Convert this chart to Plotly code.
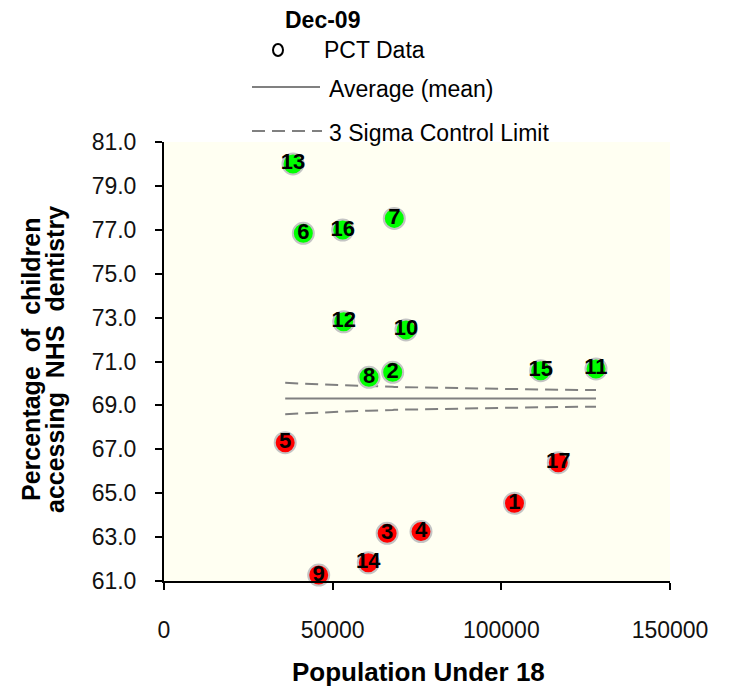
import plotly.graph_objects as go

# ---- data ----
pct_id = [1, 2, 3, 4, 5, 6, 7, 8, 9, 10, 11, 12, 13, 14, 15, 16, 17]
population = [103900, 67790, 66150, 76190, 35930, 41300, 68270, 60770, 45860,
              71740, 128060, 53270, 38240, 60570, 111660, 52970, 116890]
percentage = [64.54, 70.51, 63.17, 63.25, 67.30, 76.84, 77.52, 70.28, 61.27,
              72.44, 70.66, 72.81, 80.00, 61.83, 70.58, 76.99, 66.39]

mean_value = 69.32

# control limits read at sorted population values
limit_population = [35930, 38240, 41300, 45860, 52970, 53270, 60570, 60770, 66150,
                    67790, 68270, 71740, 76190, 103900, 111660, 116890, 128060]
upper_limit = [70.03, 70.01, 69.99, 69.96, 69.92, 69.92, 69.88, 69.88, 69.85,
               69.85, 69.84, 69.83, 69.81, 69.74, 69.72, 69.71, 69.70]
lower_limit = [68.60, 68.62, 68.65, 68.68, 68.72, 68.72, 68.76, 68.76, 68.79,
               68.79, 68.80, 68.81, 68.83, 68.90, 68.92, 68.93, 68.94]

y_ticks = [61, 63, 65, 67, 69, 71, 73, 75, 77, 79, 81]
x_ticks = [0, 50000, 100000, 150000]

# ---- geometry (page has an 8px body margin) ----
OFF = 8
W, H = 735 - OFF, 689 - OFF
PL, PR, PT, PB = 164, 670, 142, 581          # plot area in page pixels
L, T = PL - OFF, PT - OFF
R, B = W - (PR - OFF), H - (PB - OFF)
pw, ph = PR - PL, PB - PT

def px(x):
    return (x - PL) / pw

def py(y):
    return (PB - y) / ph

colors = ["#00FF00" if v > mean_value else "#FF0000" for v in percentage]

fig = go.Figure()

line_col = "#808080"
dash = "13px,7px"
fig.add_trace(go.Scatter(x=limit_population, y=upper_limit, mode="lines",
                         line=dict(color=line_col, width=2, dash=dash),
                         showlegend=False, hoverinfo="skip"))
fig.add_trace(go.Scatter(x=limit_population, y=lower_limit, mode="lines",
                         line=dict(color=line_col, width=2, dash=dash),
                         showlegend=False, hoverinfo="skip"))
fig.add_trace(go.Scatter(x=[min(limit_population), max(limit_population)],
                         y=[mean_value, mean_value], mode="lines",
                         line=dict(color=line_col, width=2),
                         showlegend=False, hoverinfo="skip"))

fig.add_trace(go.Scatter(
    x=population, y=percentage, mode="markers+text",
    text=["<b>%d</b>" % i for i in pct_id], textposition="middle center",
    textfont=dict(family="Liberation Sans, Arial", size=22, color="black"),
    marker=dict(size=21, color=colors, line=dict(color="#C4C4C4", width=2)),
    cliponaxis=False, showlegend=False))

font_main = "Liberation Sans, Arial, sans-serif"

fig.update_layout(
    width=W, height=H,
    margin=dict(l=L, r=R, t=T, b=B, pad=0),
    paper_bgcolor="white", plot_bgcolor="#FFFFF2",
    font=dict(family=font_main, color="black"),
    showlegend=False,
    xaxis=dict(range=[0, 150000], tickvals=x_ticks, ticktext=[str(v) for v in x_ticks],
               showgrid=False, zeroline=False, showline=True, linecolor="black", linewidth=2,
               ticks="outside", ticklen=7, tickwidth=2, tickcolor="black",
               tickfont=dict(size=23, color="#111"), ticklabelstandoff=20),
    yaxis=dict(range=[61, 81], tickvals=y_ticks, ticktext=[f"{v:.1f}" for v in y_ticks],
               showgrid=False, zeroline=False, showline=True, linecolor="black", linewidth=2,
               ticks="outside", ticklen=7, tickwidth=2, tickcolor="black",
               tickfont=dict(size=23, color="#111"), ticklabelstandoff=14),
)

# ---- axis titles ----
fig.add_annotation(text="<b>Population Under 18</b>", x=px(418), y=py(672),
                   xref="paper", yref="paper", showarrow=False,
                   xanchor="center", yanchor="middle", font=dict(size=26, color="black"))
for line_text, xx in [("Percentage  of  children", 31), ("accessing  NHS  dentistry", 55)]:
    fig.add_annotation(text="<b>%s</b>" % line_text, x=px(xx), y=py(360),
                       xref="paper", yref="paper", showarrow=False, textangle=-90,
                       xanchor="center", yanchor="middle", font=dict(size=25, color="black"))

# ---- manual legend ----
fig.add_annotation(text="<b>Dec-09</b>", x=px(322), y=py(20), xref="paper", yref="paper",
                   showarrow=False, xanchor="center", yanchor="middle",
                   font=dict(size=23, color="black"))
legend_rows = [("PCT Data", 322, 50), ("Average (mean)", 327, 89), ("3 Sigma Control Limit", 327, 133)]
for label, xx, yy in legend_rows:
    fig.add_annotation(text=label, x=px(xx), y=py(yy), xref="paper", yref="paper",
                       showarrow=False, xanchor="left", yanchor="middle",
                       font=dict(size=23, color="black"))
fig.add_shape(type="circle", xref="paper", yref="paper", xsizemode="pixel", ysizemode="pixel",
              xanchor=px(278), yanchor=py(50), x0=-5, x1=5, y0=-6, y1=6,
              line=dict(color="black", width=2), fillcolor="white")
fig.add_shape(type="line", xref="paper", yref="paper", x0=px(252), x1=px(320),
              y0=py(87), y1=py(87), line=dict(color=line_col, width=2))
fig.add_shape(type="line", xref="paper", yref="paper", x0=px(252), x1=px(322),
              y0=py(131), y1=py(131), line=dict(color=line_col, width=2, dash=dash))

fig.write_html("out.html")
